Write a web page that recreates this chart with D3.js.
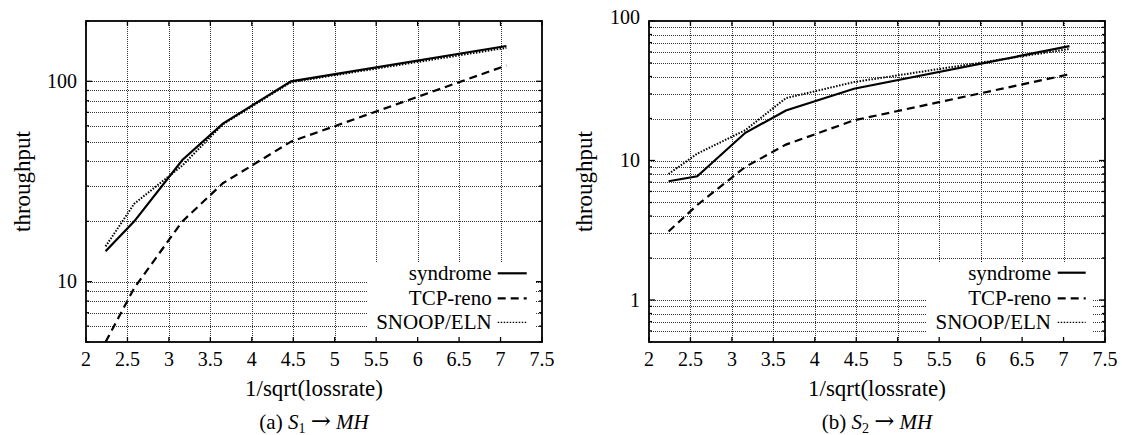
<!DOCTYPE html>
<html><head><meta charset="utf-8">
<script src="https://cdn.jsdelivr.net/npm/d3@7/dist/d3.min.js"></script>
<style>body{margin:0;background:#fff}svg{display:block}</style>
</head><body>
<svg id="chart" width="1122" height="435"></svg>
<script>
// ---- data ----
const lossX = [2.236, 2.582, 3.162, 3.651, 4.472, 7.071];
const xTicks = [2, 2.5, 3, 3.5, 4, 4.5, 5, 5.5, 6, 6.5, 7, 7.5];
const seriesNames = ["syndrome", "TCP-reno", "SNOOP/ELN"];
// panel (a) S1 -> MH
const aSyndrome = [14.2, 20, 40.5, 61.5, 100, 150];
const aReno     = [5.0, 9.3, 20, 31, 50, 120];
const aSnoop    = [15, 24.5, 38, 61, 99, 147];
const aYDomain  = [5, 200];
// panel (b) S2 -> MH
const bSyndrome = [7.1, 7.7, 15.8, 22.8, 32.7, 66];
const bReno     = [3.1, 4.8, 9.0, 13, 19.4, 41.5];
const bSnoop    = [8.0, 11.2, 16.5, 28, 36.5, 63];
const bYDomain  = [0.5, 100];
const xLabel = "1/sqrt(lossrate)";
const yLabel = "throughput";

// ---- layout / styles ----
const FONT = "'Liberation Serif','Times New Roman',serif";
const styles = [
  {dash: null, width: 2.2},
  {dash: "8,5", width: 2.2},
  {dash: "1.5,1.5", width: 2}
];
const panels = [
  {tag: "(a) ", sub: "1", vals: [aSyndrome, aReno, aSnoop], yDomain: aYDomain,
   L: 86, R: 542, T: 21, B: 342, ylabX: 23,
   key: {l: 366.7, r: 536, t: 261.7, textX: 491.7, s1: 497.7, s2: 526.7, rows: [273.3, 298.3, 322.3]}},
  {tag: "(b) ", sub: "2", vals: [bSyndrome, bReno, bSnoop], yDomain: bYDomain,
   L: 649, R: 1105, T: 21, B: 342, ylabX: 585,
   key: {l: 925.7, r: 1093, t: 261.7, textX: 1051, s1: 1057.7, s2: 1085.7, rows: [272.7, 298.3, 322.3]}}
];

const svg = d3.select("#chart");

panels.forEach((p, pi) => {
  const x = d3.scaleLinear().domain([2, 7.5]).range([p.L, p.R]);
  const y = d3.scaleLog().domain(p.yDomain).range([p.B, p.T]);
  const g = svg.append("g");
  const clipId = "clip" + pi;
  svg.append("clipPath").attr("id", clipId).append("rect")
    .attr("x", p.L).attr("y", p.T).attr("width", p.R - p.L).attr("height", p.B - p.T);

  const yTicks = y.ticks().filter(v => v > p.yDomain[0] * 1.0001 && v < p.yDomain[1] * 0.9999);
  const allY = y.ticks();
  const isMajor = v => Math.abs(Math.log10(v) - Math.round(Math.log10(v))) < 1e-9;

  // grid
  const grid = g.append("g").attr("stroke", "#333").attr("stroke-width", 1)
    .attr("stroke-dasharray", "1,1").attr("shape-rendering", "crispEdges");
  xTicks.filter(v => v > 2 && v < 7.5).forEach(v => {
    const xx = Math.round(x(v)) + 0.5;
    const inKeyX = xx > p.key.l && xx < p.key.r;
    grid.append("line").attr("x1", xx).attr("x2", xx).attr("y1", p.T).attr("y2", inKeyX ? p.key.t : p.B);
  });
  yTicks.forEach(v => {
    const yy = Math.round(y(v)) + 0.5;
    if (yy > p.key.t) {
      grid.append("line").attr("x1", p.L).attr("x2", p.key.l).attr("y1", yy).attr("y2", yy);
      grid.append("line").attr("x1", p.key.r).attr("x2", p.R).attr("y1", yy).attr("y2", yy);
    } else {
      grid.append("line").attr("x1", p.L).attr("x2", p.R).attr("y1", yy).attr("y2", yy);
    }
  });

  // series lines
  const line = d3.line().x((d, i) => x(lossX[i])).y(d => y(d));
  p.vals.forEach((vals, si) => {
    g.append("path").datum(vals).attr("d", line)
      .attr("clip-path", `url(#${clipId})`)
      .attr("fill", "none").attr("stroke", "#000")
      .attr("stroke-width", styles[si].width)
      .attr("stroke-dasharray", styles[si].dash)
      .attr("stroke-linejoin", "miter");
  });

  // legend
  seriesNames.forEach((name, si) => {
    const ry = p.key.rows[si];
    g.append("text").attr("x", p.key.textX).attr("y", ry + 7)
      .attr("text-anchor", "end").attr("font-family", FONT).attr("font-size", 21)
      .text(name);
    g.append("line").attr("x1", p.key.s1).attr("x2", p.key.s2).attr("y1", ry).attr("y2", ry)
      .attr("stroke", "#000").attr("stroke-width", si === 2 ? 1.2 : styles[si].width)
      .attr("stroke-dasharray", si === 2 ? "1.5,1.5" : styles[si].dash);
  });

  // ticks
  const tk = g.append("g").attr("stroke", "#000").attr("stroke-width", 1.3);
  xTicks.forEach(v => {
    const xx = x(v);
    tk.append("line").attr("x1", xx).attr("x2", xx).attr("y1", p.B).attr("y2", p.B - 5);
    tk.append("line").attr("x1", xx).attr("x2", xx).attr("y1", p.T).attr("y2", p.T + 5);
  });
  allY.forEach(v => {
    const yy = y(v);
    const len = isMajor(v) ? 6 : 3;
    tk.append("line").attr("x1", p.L).attr("x2", p.L + len).attr("y1", yy).attr("y2", yy);
    tk.append("line").attr("x1", p.R).attr("x2", p.R - len).attr("y1", yy).attr("y2", yy);
  });

  // border
  g.append("rect").attr("x", p.L).attr("y", p.T).attr("width", p.R - p.L).attr("height", p.B - p.T)
    .attr("fill", "none").attr("stroke", "#000").attr("stroke-width", 1.8);

  // tick labels
  xTicks.forEach(v => {
    g.append("text").attr("x", x(v)).attr("y", 366).attr("text-anchor", "middle")
      .attr("font-family", FONT).attr("font-size", 20).text(v);
  });
  allY.filter(isMajor).forEach(v => {
    g.append("text").attr("x", p.L - 9).attr("y", y(v)).attr("dy", v === p.yDomain[1] ? "0.14em" : "0.34em")
      .attr("text-anchor", "end").attr("font-family", FONT).attr("font-size", 20)
      .text(d3.format("~g")(v));
  });

  // axis titles
  g.append("text").attr("x", (p.L + p.R) / 2).attr("y", 396).attr("text-anchor", "middle")
    .attr("font-family", FONT).attr("font-size", 23).text(xLabel);
  g.append("text").attr("transform", `translate(${p.ylabX + 7},${(p.T + p.B) / 2}) rotate(-90)`)
    .attr("text-anchor", "middle").attr("font-family", FONT).attr("font-size", 23).text(yLabel);

  // caption
  const cap = g.append("text").attr("x", (p.L + p.R) / 2).attr("y", 429).attr("text-anchor", "middle")
    .attr("font-family", FONT).attr("font-size", 21);
  cap.append("tspan").text(p.tag);
  cap.append("tspan").attr("font-style", "italic").text("S");
  cap.append("tspan").attr("font-size", 14).attr("dy", 4).text(p.sub);
  cap.append("tspan").attr("dy", -4).text(" ");
  cap.append("tspan").attr("font-size", 24).attr("font-family", "'DejaVu Serif',serif").text("\u2192");
  cap.append("tspan").text(" ");
  cap.append("tspan").attr("font-style", "italic").text("MH");
});
</script>
</body></html>
